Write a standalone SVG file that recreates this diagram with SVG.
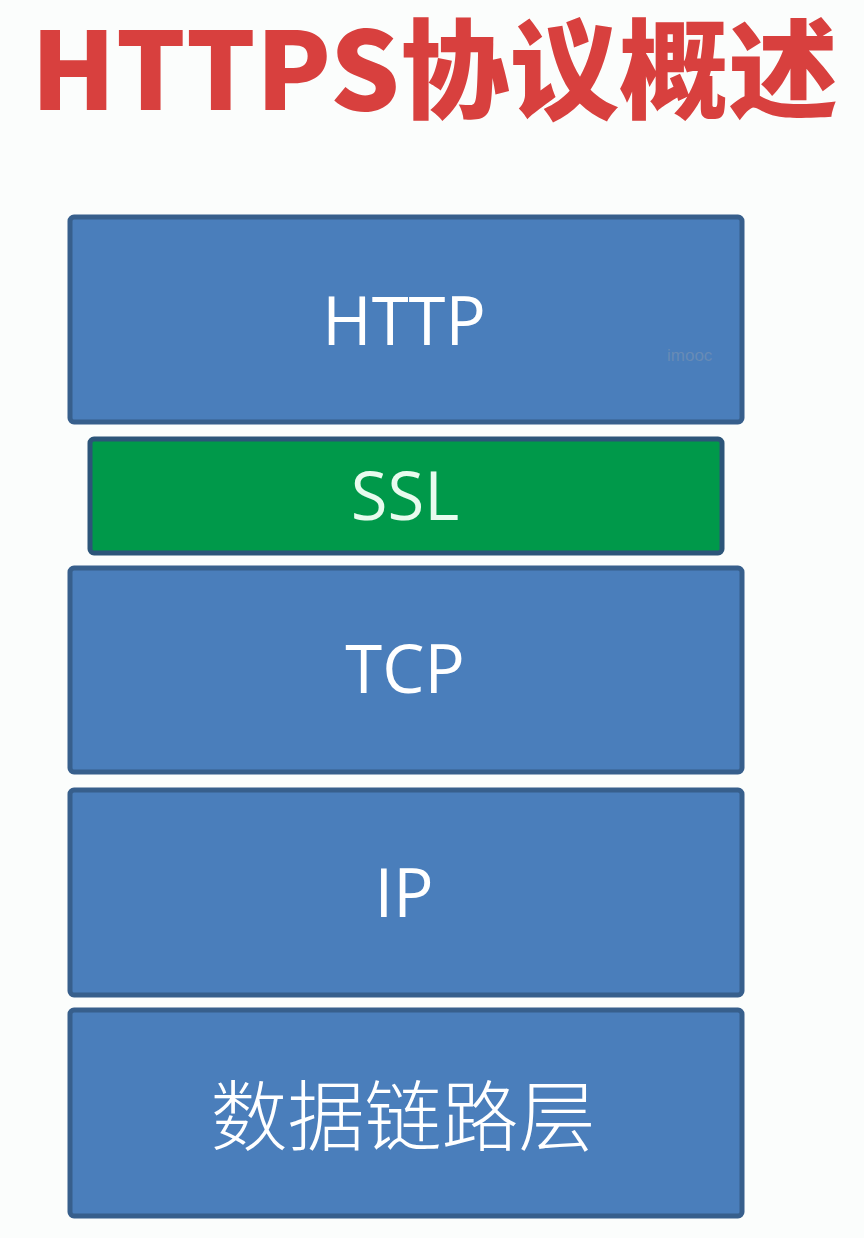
<svg xmlns="http://www.w3.org/2000/svg" width="864" height="1238" viewBox="0 0 864 1238">
<style>
.bg{fill:#fbfdfc}
.layer{fill:#4a7ebb;stroke:#375f8c;stroke-width:5}
.ssl{fill:#00994a;stroke:#2c5579;stroke-width:5}
.lbl{font-family:"Open Sans","Noto Sans","Noto Sans CJK SC",sans-serif;font-size:67px;fill:#ffffff;text-anchor:middle;dominant-baseline:central}
.ssltxt{fill:#e8fbee}
.cjk{font-family:"Noto Sans CJK SC",sans-serif;font-size:77px;font-weight:300}
.title{font-family:"Noto Sans CJK SC","Liberation Sans",sans-serif;font-weight:900;font-size:108px;fill:#d8403e}
.wm{font-family:"Liberation Sans",sans-serif;font-size:17px;fill:#6f8fb5;opacity:0.8}
</style>
<rect class="bg" x="0" y="0" width="864" height="1238"/>
<g id="title">
<text class="title" x="31" y="110" textLength="807" lengthAdjust="spacingAndGlyphs">HTTPS协议概述</text>
</g>
<g id="connectors"></g>
<g id="http">
<rect class="layer" x="70" y="217" width="672" height="205" rx="4"/>
<text class="lbl" x="404" y="319">HTTP</text>
<text class="wm" x="667" y="361">imooc</text>
</g>
<g id="ssl">
<rect class="ssl" x="90" y="439" width="632" height="114" rx="4"/>
<text class="lbl ssltxt" x="405" y="494">SSL</text>
</g>
<g id="tcp">
<rect class="layer" x="70" y="568" width="672" height="204" rx="4"/>
<text class="lbl" x="405" y="667">TCP</text>
</g>
<g id="ip">
<rect class="layer" x="70" y="790" width="672" height="205" rx="4"/>
<text class="lbl" x="404" y="891">IP</text>
</g>
<g id="datalink">
<rect class="layer" x="70" y="1010" width="672" height="206" rx="4"/>
<text class="lbl cjk" x="403" y="1111">数据链路层</text>
</g>
</svg>
